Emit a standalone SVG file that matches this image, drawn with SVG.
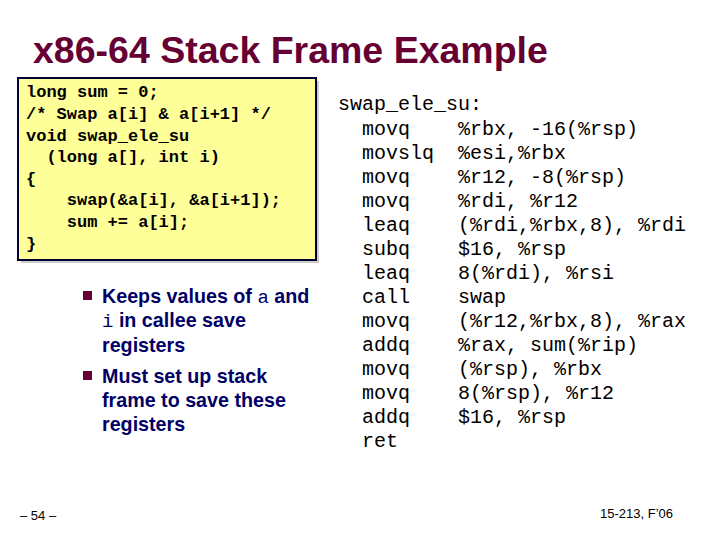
<svg xmlns="http://www.w3.org/2000/svg" width="720" height="540" viewBox="0 0 720 540">
<style>
.c{font-family:"Liberation Mono",monospace;font-weight:bold;font-size:17px;fill:#000}
.a{font-family:"Liberation Mono",monospace;font-size:20px;fill:#000;white-space:pre}
.b{font-family:"Liberation Sans",Arial,sans-serif;font-weight:bold;font-size:19.7px;fill:#000066}
.bm{font-family:"Liberation Mono",monospace;font-weight:normal;font-size:19px}
.f{font-family:"Liberation Sans",Arial,sans-serif;font-size:13px;fill:#000}
</style>
<rect width="720" height="540" fill="#fff"/>
<text x="33" y="63" font-family="Liberation Sans,Arial,sans-serif" font-weight="bold" font-size="37.5" fill="#660033">x86-64 Stack Frame Example</text>
<g id="code">
<rect x="21" y="81" width="298" height="182" fill="#999" opacity="0.5"/>
<rect x="18" y="78" width="298" height="182" fill="#ffff99" stroke="#000033" stroke-width="2"/>
<text class="c" xml:space="preserve"><tspan x="26" y="97">long sum = 0;</tspan><tspan x="26" y="119">/* Swap a[i] &amp; a[i+1] */</tspan><tspan x="26" y="141">void swap_ele_su</tspan><tspan x="26" y="162">  (long a[], int i)</tspan><tspan x="26" y="184">{</tspan><tspan x="26" y="205">    swap(&amp;a[i], &amp;a[i+1]);</tspan><tspan x="26" y="227">    sum += a[i];</tspan><tspan x="26" y="249">}</tspan></text>
</g>
<g id="bullets">
<rect x="83" y="291" width="9" height="9" fill="#660033"/>
<rect x="83" y="371" width="9" height="9" fill="#660033"/>
<text class="b"><tspan x="102" y="303">Keeps values of <tspan class="bm">a</tspan> and</tspan><tspan x="102" y="327"><tspan class="bm">i</tspan> in callee save</tspan><tspan x="102" y="352">registers</tspan><tspan x="102" y="383">Must set up stack</tspan><tspan x="102" y="407">frame to save these</tspan><tspan x="102" y="431">registers</tspan></text>
</g>
<g id="asm">
<text class="a" x="338" y="110">swap_ele_su:</text>
<text class="a"><tspan x="362" y="135">movq</tspan><tspan x="362" y="159">movslq</tspan><tspan x="362" y="183">movq</tspan><tspan x="362" y="207">movq</tspan><tspan x="362" y="231">leaq</tspan><tspan x="362" y="255">subq</tspan><tspan x="362" y="279">leaq</tspan><tspan x="362" y="303">call</tspan><tspan x="362" y="327">movq</tspan><tspan x="362" y="351">addq</tspan><tspan x="362" y="375">movq</tspan><tspan x="362" y="399">movq</tspan><tspan x="362" y="423">addq</tspan><tspan x="362" y="447">ret</tspan></text>
<text class="a"><tspan x="458" y="135">%rbx, -16(%rsp)</tspan><tspan x="458" y="159">%esi,%rbx</tspan><tspan x="458" y="183">%r12, -8(%rsp)</tspan><tspan x="458" y="207">%rdi, %r12</tspan><tspan x="458" y="231">(%rdi,%rbx,8), %rdi</tspan><tspan x="458" y="255">$16, %rsp</tspan><tspan x="458" y="279">8(%rdi), %rsi</tspan><tspan x="458" y="303">swap</tspan><tspan x="458" y="327">(%r12,%rbx,8), %rax</tspan><tspan x="458" y="351">%rax, sum(%rip)</tspan><tspan x="458" y="375">(%rsp), %rbx</tspan><tspan x="458" y="399">8(%rsp), %r12</tspan><tspan x="458" y="423">$16, %rsp</tspan></text>
</g>
<text class="f" x="20" y="520">– 54 –</text>
<text class="f" x="600" y="518">15-213, F’06</text>
</svg>
